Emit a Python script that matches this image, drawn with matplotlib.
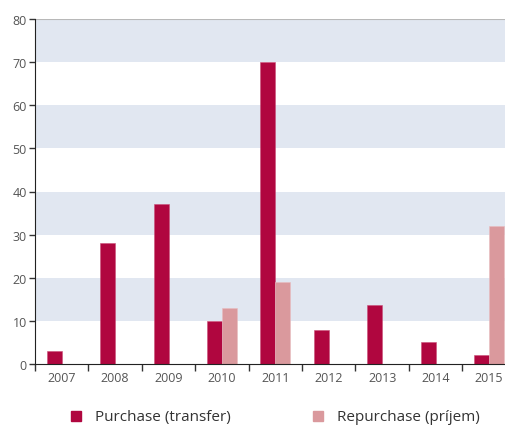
import matplotlib.pyplot as plt
from matplotlib.patches import Rectangle

years = ["2007", "2008", "2009", "2010", "2011", "2012", "2013", "2014", "2015"]
purchase = [3, 28, 37, 10, 70, 8, 13.7, 5, 2]
repurchase = [0, 0, 0, 13, 19, 0, 0, 0, 32]

purchase_color = "#B0063F"
repurchase_color = "#DA999D"
band_color = "#E1E7F1"

plt.rcParams["font.family"] = ["Open Sans", "DejaVu Sans"]

fig = plt.figure(figsize=(5.05, 4.27), dpi=100)
ax = fig.add_axes([35 / 505, 1 - 365 / 427, 1 - 35 / 505, 345 / 427])

# shaded horizontal bands
for lo in range(10, 80, 20):
    ax.axhspan(lo, lo + 10, color=band_color, zorder=0, lw=0)
ax.axhline(80, color="#B8B8B8", lw=0.8, zorder=1)

x = range(len(years))
w = 0.28
ax.bar([i - w / 2 for i in x], purchase, width=w, color=purchase_color,
       edgecolor="#C9507A", linewidth=0.4, zorder=2)
rep_x = [i + w / 2 for i, v in zip(x, repurchase) if v > 0]
rep_v = [v for v in repurchase if v > 0]
ax.bar(rep_x, rep_v, width=w, color=repurchase_color,
       edgecolor="#E8BDC0", linewidth=0.4, zorder=2)

ax.set_yticks(range(0, 81, 10))
ax.set_xticks(list(x))
ax.set_xticklabels(years)
ax.set_xticks([i + 0.5 for i in range(-1, len(years) - 1)], minor=True)
ax.set_xlim(-0.5, 8.3)
ax.set_ylim(0, 80)
ax.tick_params(axis="x", which="major", length=0, pad=5, labelsize=9, labelcolor="#555555")
ax.tick_params(axis="x", which="minor", length=5, width=1, color="#333333")
ax.tick_params(axis="y", length=4, width=1, color="#333333", labelsize=9,
               labelcolor="#555555", pad=2)

for s in ["top", "right"]:
    ax.spines[s].set_visible(False)
ax.spines["left"].set_color("#222222")
ax.spines["bottom"].set_color("#222222")

# legend drawn below the axes
fig.patches.append(Rectangle((71 / 505, 1 - 422 / 427), 10 / 505, 10 / 427,
                             transform=fig.transFigure, color=purchase_color))
fig.text(95 / 505, 1 - 418 / 427, "Purchase (transfer)", fontsize=11,
         color="#333333", va="center")
fig.patches.append(Rectangle((313 / 505, 1 - 422 / 427), 10 / 505, 10 / 427,
                             transform=fig.transFigure, color=repurchase_color))
fig.text(337 / 505, 1 - 418 / 427, "Repurchase (príjem)", fontsize=11,
         color="#333333", va="center")

fig.savefig("out.png", dpi=100)
